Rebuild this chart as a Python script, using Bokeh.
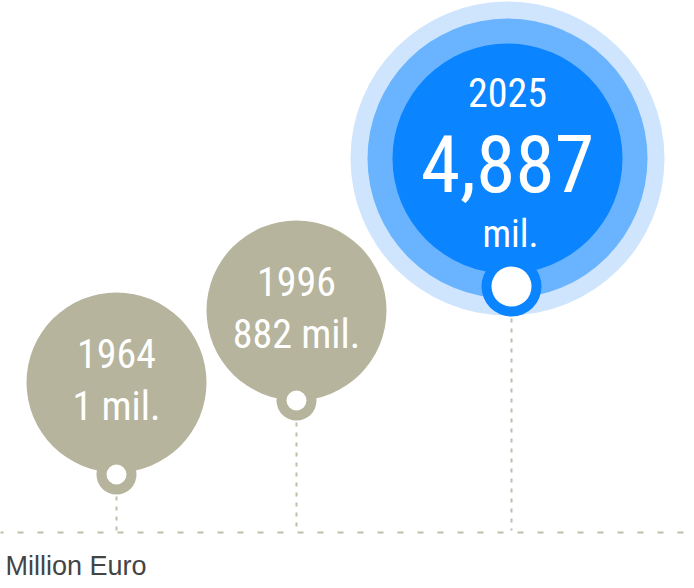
from bokeh.plotting import figure
from bokeh.models import Range1d, ColumnDataSource
from bokeh.core.properties import value
from bokeh.embed import file_html
from bokeh.resources import INLINE

# ---- data ----
years = ["1964", "1996", "2025"]
values_mil = [1, 882, 4887]
value_labels = ["1 mil.", "882 mil.", "4,887"]
unit_word = "mil."
unit_label = "Million Euro"

# ---- layout (picture coordinates, y grows downward) ----
cx = [116, 296, 507]
cy = [382, 310, 158]
pin_x = [116, 296, 511]
pin_y = [474, 400, 286]
base_y = 532

OLIVE = "#b6b49c"
LINE = "#bfbea8"
BLUE = "#0a84ff"
BLUE_MID = "#69b3ff"
BLUE_LIGHT = "#cfe5fd"
FONT = "Roboto Condensed"

W, H = 686, 580
p = figure(width=W, height=H, output_backend="svg", toolbar_location=None,
           x_range=Range1d(0, W), y_range=Range1d(H, 0), min_border=0)
p.axis.visible = False
p.grid.visible = False
p.outline_line_color = None
p.background_fill_color = "white"

# baseline
p.line(x=[-3, W + 10], y=[base_y, base_y], line_color=LINE, line_width=2, line_dash="6 14")

# vertical dotted connectors
for i in range(len(years)):
    r_out = 30 if i == 2 else 20
    p.line(x=[pin_x[i], pin_x[i]], y=[pin_y[i] + r_out + 2, base_y - 2],
           line_color=LINE, line_width=2, line_dash="4 6")

# small olive bubbles
small = ColumnDataSource(dict(x=cx[:2], y=cy[:2], px=pin_x[:2], py=pin_y[:2]))
p.circle(x="x", y="y", radius=90, source=small, fill_color=OLIVE, line_color=None)
p.circle(x="px", y="py", radius=20, source=small, fill_color=OLIVE, line_color=None)
p.circle(x="px", y="py", radius=10, source=small, fill_color="white", line_color=None)

# big blue bubble
p.circle(x=[cx[2]], y=[cy[2]], radius=157, fill_color=BLUE_LIGHT, line_color=None)
p.circle(x=[cx[2]], y=[cy[2]], radius=140, fill_color=BLUE_MID, line_color=None)
p.circle(x=[cx[2]], y=[cy[2]], radius=115, fill_color=BLUE, line_color=None)
p.circle(x=[pin_x[2]], y=[pin_y[2]], radius=30, fill_color=BLUE, line_color=None)
p.circle(x=[pin_x[2]], y=[pin_y[2]], radius=20, fill_color="white", line_color=None)

# texts in olive bubbles
ts = ColumnDataSource(dict(x=cx[:2], y1=[c - 29 for c in cy[:2]], y2=[c + 24 for c in cy[:2]],
                           yr=years[:2], lab=value_labels[:2]))
p.text(x="x", y="y1", text="yr", source=ts, text_color="white", text_font=value(FONT),
       text_font_size="40px", text_align="center", text_baseline="middle")
p.text(x="x", y="y2", text="lab", source=ts, text_color="white", text_font=value(FONT),
       text_font_size="40px", text_align="center", text_baseline="middle")

# texts in blue bubble
p.text(x=[cx[2]], y=[cy[2] - 66], text=[years[2]], text_color="white", text_font=value(FONT),
       text_font_size="40px", text_align="center", text_baseline="middle")
p.text(x=[cx[2]], y=[cy[2] + 5], text=[value_labels[2]], text_color="white", text_font=value(FONT),
       text_font_size="80px", text_align="center", text_baseline="middle")
p.text(x=[cx[2] + 3], y=[cy[2] + 75], text=[unit_word], text_color="white", text_font=value(FONT),
       text_font_size="38px", text_align="center", text_baseline="middle")

# unit label
p.text(x=[5], y=[565], text=[unit_label], text_color="#444444", text_font=value("Liberation Sans"),
       text_font_size="27px", text_align="left", text_baseline="middle")

open("out.html", "w").write(file_html(p, INLINE))
